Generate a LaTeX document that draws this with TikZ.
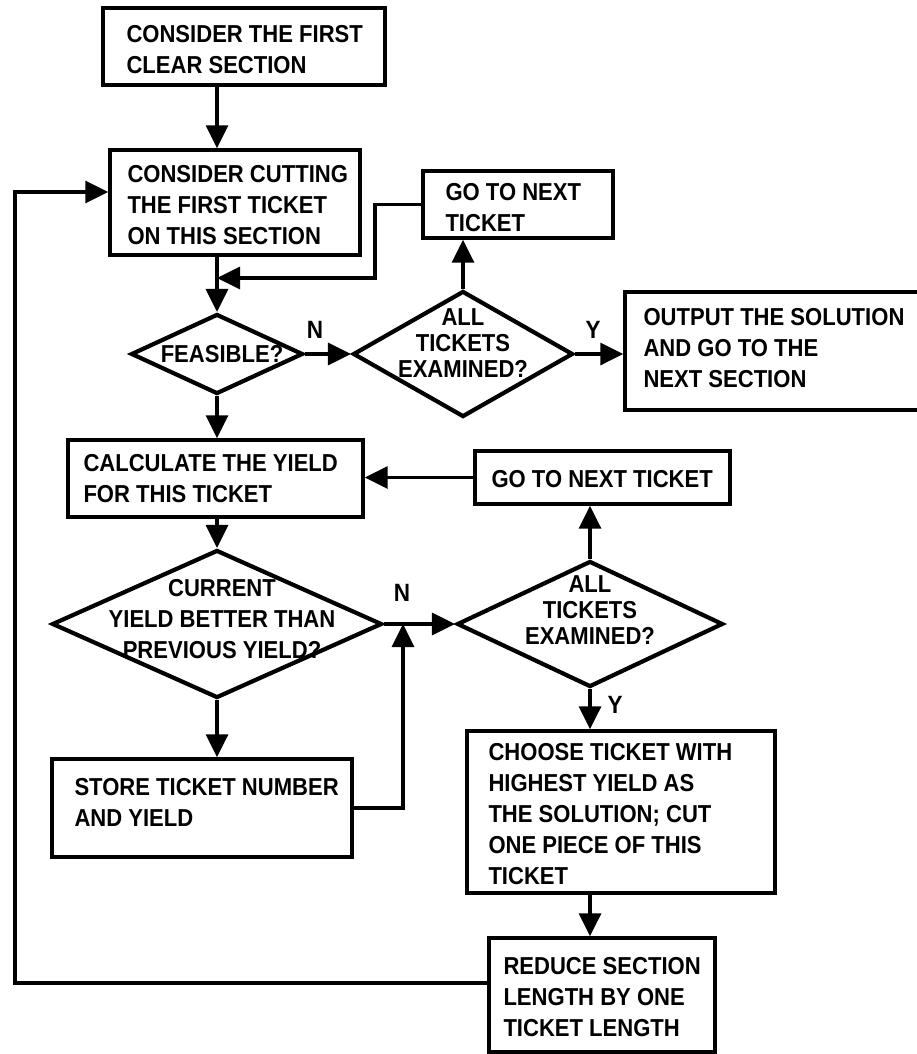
\documentclass[tikz,border=0pt]{standalone}
\usepackage{fontspec}
\setmainfont{Liberation Sans}[FakeStretch=0.9]
\usetikzlibrary{arrows.meta,shapes.geometric}
\begin{document}
\begin{tikzpicture}[x=1pt,y=-1pt,
  box/.style={draw, rectangle, line width=3.4pt, inner sep=0pt},
  dia/.style={draw, diamond, line width=4.2pt, inner sep=0pt},
  txt/.style={align=left, inner sep=0pt, font=\fontsize{24.5}{31}\selectfont\bfseries},
  dtxt/.style={align=center, inner sep=0pt, font=\fontsize{24.5}{26}\selectfont\bfseries},
  lbl/.style={inner sep=0pt, font=\fontsize{25}{26}\selectfont\bfseries},
  arr/.style={line width=3.4pt, -{Triangle[length=23pt,width=22pt]}}]
\useasboundingbox (0,0) rectangle (916,1054);
\fill[white] (0,0) rectangle (916,1054);

% process boxes
\node[box, minimum width=282pt, minimum height=77pt] (start) at (244,46.5) {};
\node[txt, anchor=west] (startT) at ([xshift=25pt,yshift=-3pt]start.west) {CONSIDER THE FIRST\\CLEAR SECTION};

\node[box, minimum width=250pt, minimum height=105pt] (cut) at (235,202.5) {};
\node[txt, anchor=west] (cutT) at ([xshift=19pt,yshift=-3pt]cut.west) {CONSIDER CUTTING\\THE FIRST TICKET\\ON THIS SECTION};

\node[box, minimum width=190pt, minimum height=67pt] (go1) at (518,204.5) {};
\node[txt, anchor=west] (go1T) at ([xshift=24pt,yshift=-3pt]go1.west) {GO TO NEXT\\TICKET};

\node[box, minimum width=305pt, minimum height=118pt] (out) at (777.5,351) {};
\node[txt, anchor=west] (outT) at ([xshift=20pt,yshift=3pt]out.west) {OUTPUT THE SOLUTION\\AND GO TO THE\\NEXT SECTION};

\node[box, minimum width=295pt, minimum height=77pt] (calc) at (215.5,478.5) {};
\node[txt, anchor=west] (calcT) at ([xshift=17pt]calc.west) {CALCULATE THE YIELD\\FOR THIS TICKET};

\node[box, minimum width=255pt, minimum height=53pt] (go2) at (602.5,477.5) {};
\node[txt, anchor=west] (go2T) at ([xshift=18pt,yshift=-2pt]go2.west) {GO TO NEXT TICKET};

\node[box, minimum width=300pt, minimum height=98pt] (store) at (202,808) {};
\node[txt, anchor=west] (storeT) at ([xshift=24pt,yshift=6pt]store.west) {STORE TICKET NUMBER\\AND YIELD};

\node[box, minimum width=308pt, minimum height=162pt] (choose) at (621,812) {};
\node[txt, anchor=west] (chooseT) at ([xshift=23pt,yshift=-2pt]choose.west) {CHOOSE TICKET WITH\\HIGHEST YIELD AS\\THE SOLUTION; CUT\\ONE PIECE OF THIS\\TICKET};

\node[box, minimum width=226pt, minimum height=114pt] (reduce) at (602,995) {};
\node[txt, anchor=west] (reduceT) at ([xshift=16pt,yshift=-2pt]reduce.west) {REDUCE SECTION\\LENGTH BY ONE\\TICKET LENGTH};

% decisions
\node[dia, minimum width=172pt, minimum height=80pt] (feas) at (217,354) {};
\node[dtxt] (feasT) at ([xshift=5pt]feas.center) {FEASIBLE?};

\node[dia, minimum width=220pt, minimum height=126pt] (d1) at (463,354) {};
\node[dtxt] (d1T) at ([yshift=11pt]d1.center) {ALL\\TICKETS\\EXAMINED?};

\node[dia, minimum width=330pt, minimum height=148pt] (cur) at (217,624) {};
\node[dtxt, font=\fontsize{24.5}{31}\selectfont\bfseries] (curT) at ([xshift=5pt,yshift=5pt]cur.center) {CURRENT\\YIELD BETTER THAN\\PREVIOUS YIELD?};

\node[dia, minimum width=266pt, minimum height=126pt] (d2) at (590,624) {};
\node[dtxt] (d2T) at ([yshift=14pt]d2.center) {ALL\\TICKETS\\EXAMINED?};

% branch labels
\node[lbl] (n1) at (315,330) {N};
\node[lbl] (y1) at (593,330) {Y};
\node[lbl] (n2) at (402,593) {N};
\node[lbl] (y2) at (615,705) {Y};

% connectors
\draw[arr] (start.south -| feas.north) -- (cut.north -| feas.north);
\draw[arr] (cut.south -| feas.north) -- (feas.north);
\coordinate (gj) at (375,278);
\draw[arr] (go1.west) -| (gj) -- (gj -| feas.north);
\draw[arr] (feas.east) -- (d1.west);
\draw[arr] (d1.north) -- (d1.north |- go1.south);
\draw[arr] (d1.east) -- (d1.east -| out.west);
\draw[arr] (feas.south) -- (feas.south |- calc.north);
\draw[arr] (go2.west) -- (go2.west -| calc.east);
\draw[arr] (calc.south -| cur.north) -- (cur.north);
\draw[arr] (cur.east) -- (d2.west);
\draw[arr] (cur.south) -- (cur.south |- store.north);
\coordinate (jn) at (403,624);
\draw[arr] (store.east) -| (jn);
\draw[arr] (d2.north) -- (d2.north |- go2.south);
\draw[arr] (d2.south) -- (d2.south |- choose.north);
\draw[arr] (choose.south -| d2.south) -- (reduce.north -| d2.south);
\coordinate (lb) at (15,983);
\coordinate (lt) at (15,192);
\draw[arr] (reduce.west |- lb) -- (lb) -- (lt) -- (lt -| cut.west);
\end{tikzpicture}
\end{document}
